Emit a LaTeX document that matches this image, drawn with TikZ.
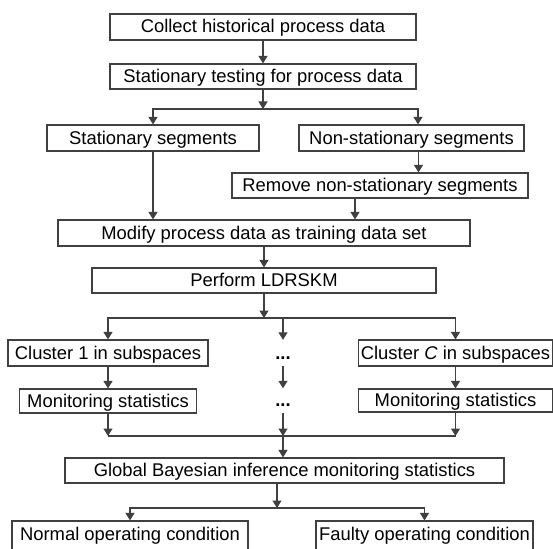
\documentclass[tikz,border=0pt]{standalone}
\usepackage{fontspec}
\setmainfont{Liberation Sans}
\usetikzlibrary{arrows.meta}
\definecolor{linegray}{HTML}{404040}

\tikzset{
  box/.style={draw=linegray, line width=1.2pt, inner sep=0pt, minimum height=26pt,
    text height=12pt, text depth=0pt, font=\fontsize{18.4}{20}\selectfont},
  dots/.style={inner sep=0pt, minimum height=26pt, text height=12pt, text depth=0pt,
    font=\fontsize{18.4}{20}\selectfont\bfseries},
  arr/.style={draw=linegray, line width=1.2pt, -{Triangle[width=9pt,length=7.5pt]}},
  line/.style={draw=linegray, line width=1.2pt},
}

\begin{document}
\begin{tikzpicture}[x=1pt,y=-1pt]
    \useasboundingbox (0,0) rectangle (553,548);

    \node[box,minimum width=306pt] (collect) at (263,27) {Collect historical process data};
    \node[box,minimum width=306pt,minimum height=25pt] (testing) at (263,76.5) {Stationary testing for process data};
    \node[box,minimum width=212pt] (stat) at (153,138) {Stationary segments};
    \node[box,minimum width=225pt] (nonstat) at (411.5,138) {Non-stationary segments};
    \node[box,minimum width=296pt,minimum height=25pt] (remove) at (380,185.5) {Remove non-stationary segments};
    \node[box,minimum width=412pt] (modify) at (264,233) {Modify process data as training data set};
    \node[box,minimum width=344pt,minimum height=25pt] (perform) at (264,280.5) {Perform LDRSKM};

    \node[box,minimum width=200pt] (clusA) at (108,353) {Cluster 1 in subspaces};
    \node[dots] (dotsA) at (283,353) {...};
    \node[box,minimum width=194pt] (clusC) at (455.5,353) {Cluster \textit{C} in subspaces};
    \node[box,minimum width=177pt,minimum height=24pt] (monA) at (108,401) {Monitoring statistics};
    \node[dots,minimum height=24pt] (dotsB) at (283,400.5) {...};
    \node[box,minimum width=194pt,minimum height=23pt] (monC) at (455.5,400.5) {Monitoring statistics};

    \node[box,minimum width=439pt,minimum height=25pt] (global) at (284.5,470.5) {Global Bayesian inference monitoring statistics};
    % bottom row runs off the lower edge
    \node[box,minimum width=236pt,minimum height=32pt,text depth=6pt] (normal) at (130,537) {Normal operating condition};
    \node[box,minimum width=217pt,minimum height=32pt,text depth=6pt] (faulty) at (424.5,537) {Faulty operating condition};

    % junctions
    \coordinate (split1) at (263,109);
    \coordinate (split2) at (264,318);
    \coordinate (merge) at (283,436);
    \coordinate (split3) at (277,508);

    \draw[arr] (collect) -- (testing);
    \draw[arr] (testing) -- (split1);
    \draw[arr] (split1) -| (stat.north);
    \draw[arr] (split1) -| ([xshift=6.5pt]nonstat.north);
    \draw[arr] ([xshift=7pt]nonstat.south) -- ([xshift=7pt]nonstat.south |- remove.north);
    \draw[arr] (stat) -- (stat |- modify.north);
    \draw[arr] ([xshift=-25pt]remove.south) -- ([xshift=-25pt]remove.south |- modify.north);
    \draw[arr] (modify) -- (perform);

    \draw[arr] (perform) -- (split2);
    \draw[arr] (split2) -| (clusA.north);
    \draw[arr] (split2) -| (dotsA.north);
    \draw[arr] (split2) -| (clusC.north);
    \draw[arr] (clusA) -- (clusA |- monA.north);
    \draw[arr] (dotsA) -- (dotsB);
    \draw[arr] (clusC) -- (clusC |- monC.north);

    \draw[line] (monA |- merge) -- (monC |- merge);
    \draw[arr] (monA) -- (monA |- merge);
    \draw[arr] (dotsB) -- (merge);
    \draw[arr] (monC) -- (monC |- merge);
    \draw[arr] (merge) -- (merge |- global.north);

    \draw[arr] (split3 |- global.south) -- (split3);
    \draw[arr] (split3) -| (normal.north);
    \draw[arr] (split3) -| (faulty.north);
\end{tikzpicture}
\end{document}
